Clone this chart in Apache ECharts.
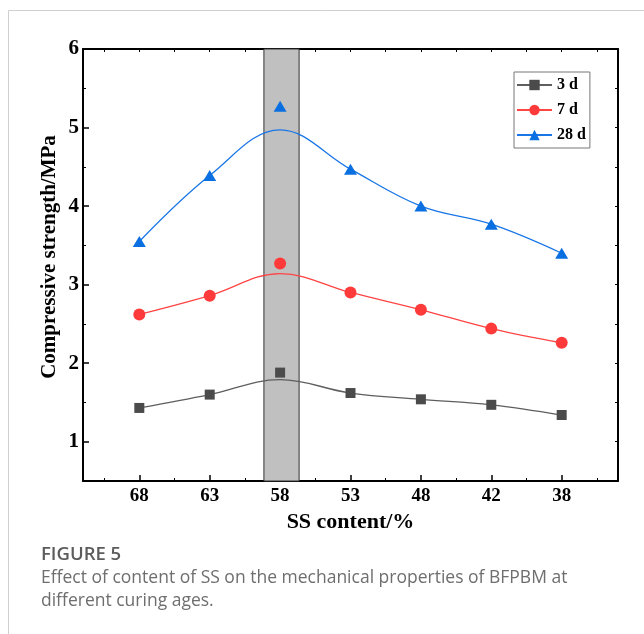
<!DOCTYPE html>
<html>
<head>
<meta charset="utf-8">
<style>
  html, body { margin: 0; padding: 0; background: #ffffff; }
  #chart { width: 644px; height: 634px; }
</style>
<script src="https://cdn.jsdelivr.net/npm/echarts@6/dist/echarts.min.js"></script>
</head>
<body>
<div id="chart"></div>
<script>
// SS content categories (x axis, in order of decreasing content)
const categories = ['68', '63', '58', '53', '48', '42', '38'];

// Measured compressive strength (MPa) at each curing age
const measured3d  = [1.43, 1.60, 1.88, 1.62, 1.54, 1.47, 1.34];
const measured7d  = [2.62, 2.86, 3.27, 2.90, 2.68, 2.44, 2.26];
const measured28d = [3.55, 4.39, 5.27, 4.47, 4.00, 3.77, 3.40];

// Smoothed trend curves through the measurements
const trend3d  = [1.43, 1.60, 1.79, 1.62, 1.54, 1.47, 1.34];
const trend7d  = [2.62, 2.86, 3.14, 2.90, 2.68, 2.44, 2.26];
const trend28d = [3.55, 4.39, 4.97, 4.47, 4.00, 3.77, 3.40];

// Y tick labels
const yTicks = [1, 2, 3, 4, 5, 6];

// Highlighted range around the 58 % content (in category-index units)
const highlightBand = [1.77, 2.27];

const seriesNames = ['3 d', '7 d', '28 d'];
const colors = ['#4b4b4b', '#ff3a3a', '#0a6fe0'];
const lineColors = ['#5e5e5e', '#ff4444', '#1976e6'];
const symbols = ['rect', 'circle', 'triangle'];
const symbolSizes = [10, 12, [13, 11]];

const idx = categories.map((_, i) => i);
const pairs = arr => arr.map((v, i) => [i, v]);

const serif = '"Liberation Serif", "Times New Roman", serif';

const halfSteps = [];
for (let v = -0.5; v <= 6.5001; v += 0.5) halfSteps.push(+v.toFixed(1));
const minorX = halfSteps.filter(v => !Number.isInteger(v));
const yHalf = [];
for (let v = 0.5; v <= 6.0001; v += 0.5) yHalf.push(+v.toFixed(1));
const minorY = yHalf.filter(v => !Number.isInteger(v));

const axisLineStyle = { color: '#000', width: 2 };

const trends = [trend3d, trend7d, trend28d];
const measured = [measured3d, measured7d, measured28d];

const series = [];
// background band
series.push({
  type: 'line',
  name: 'band',
  data: [],
  z: 1,
  silent: true,
  markArea: {
    silent: true,
    itemStyle: { color: '#c0c0c0', borderColor: '#333', borderWidth: 1 },
    data: [[{ xAxis: highlightBand[0] }, { xAxis: highlightBand[1] }]]
  }
});
trends.forEach((t, k) => {
  series.push({
    type: 'line',
    name: seriesNames[k],
    data: pairs(t),
    smooth: 0.38,
    symbol: symbols[k],
    symbolSize: symbolSizes[k],
    showSymbol: false,
    z: 3,
    lineStyle: { color: lineColors[k], width: 1.3 },
    itemStyle: { color: colors[k] },
    silent: true
  });
});
measured.forEach((m, k) => {
  series.push({
    type: 'scatter',
    name: seriesNames[k],
    data: pairs(m),
    symbol: symbols[k],
    symbolSize: symbolSizes[k],
    z: 4,
    itemStyle: { color: colors[k], opacity: 1 },
    silent: true
  });
});

const chart = echarts.init(document.getElementById('chart'), null, { renderer: 'canvas' });

chart.setOption({
  animation: false,
  backgroundColor: '#ffffff',
  grid: { left: 83, right: 26, top: 49, bottom: 153, containLabel: false, outerBoundsMode: 'none' },
  legend: {
    data: seriesNames,
    orient: 'vertical',
    left: 514,
    top: 72,
    padding: [5, 4, 5, 2],
    itemWidth: 35,
    itemHeight: 13,
    itemGap: 9,
    borderColor: '#777',
    borderWidth: 1,
    textStyle: { fontFamily: serif, fontWeight: 'bold', fontSize: 16, color: '#000' },
    selectedMode: false
  },
  xAxis: [
    {
      type: 'value', min: -0.8, max: 6.8, position: 'bottom',
      name: 'SS content/%', nameLocation: 'middle', nameGap: 26,
      nameTextStyle: { fontFamily: serif, fontWeight: 'bold', fontSize: 22, color: '#000' },
      axisLine: { show: true, onZero: false, lineStyle: axisLineStyle },
      axisTick: { show: true, inside: true, length: 6, lineStyle: { color: '#000', width: 1.5 }, customValues: idx },
      axisLabel: {
        show: true, customValues: idx, margin: 6,
        formatter: v => categories[Math.round(v)] ?? '',
        fontFamily: serif, fontWeight: 'bold', fontSize: 19, color: '#000'
      },
      splitLine: { show: false }
    },
    {
      type: 'value', min: -0.8, max: 6.8, position: 'bottom',
      axisLine: { show: false, onZero: false },
      axisTick: { show: true, inside: true, length: 3, lineStyle: { color: '#000', width: 1 }, customValues: minorX },
      axisLabel: { show: false },
      splitLine: { show: false }
    },
    {
      type: 'value', min: -0.8, max: 6.8, position: 'top',
      axisLine: { show: true, onZero: false, lineStyle: axisLineStyle },
      axisTick: { show: true, inside: true, length: 3, lineStyle: { color: '#000', width: 1 }, customValues: halfSteps },
      axisLabel: { show: false },
      splitLine: { show: false }
    }
  ],
  yAxis: [
    {
      type: 'value', min: 0.5, max: 6, position: 'left',
      axisLine: { show: true, onZero: false, lineStyle: axisLineStyle },
      axisTick: { show: true, inside: true, length: 6, lineStyle: { color: '#000', width: 1.5 }, customValues: yTicks },
      axisLabel: {
        show: true, customValues: yTicks, margin: 4,
        fontFamily: serif, fontWeight: 'bold', fontSize: 21, color: '#000'
      },
      splitLine: { show: false }
    },
    {
      type: 'value', min: 0.5, max: 6, position: 'left',
      axisLine: { show: false, onZero: false },
      axisTick: { show: true, inside: true, length: 3, lineStyle: { color: '#000', width: 1 }, customValues: minorY },
      axisLabel: { show: false },
      splitLine: { show: false }
    },
    {
      type: 'value', min: 0.5, max: 6, position: 'right',
      axisLine: { show: true, onZero: false, lineStyle: axisLineStyle },
      axisTick: { show: true, inside: true, length: 3, lineStyle: { color: '#000', width: 1 }, customValues: yHalf },
      axisLabel: { show: false },
      splitLine: { show: false }
    }
  ],
  graphic: [
    {
      type: 'rect', silent: true, z: 0,
      shape: { x: 8.5, y: 10.5, width: 700, height: 700 },
      style: { fill: 'none', stroke: '#cfcfcf', lineWidth: 1 }
    },
    {
      type: 'text', silent: true,
      x: 50, y: 257, rotation: Math.PI / 2,
      style: {
        text: 'Compressive strength/MPa',
        fontFamily: serif, fontWeight: 'bold', fontSize: 21, fill: '#000',
        align: 'center', verticalAlign: 'middle'
      }
    },
    {
      type: 'text', silent: true, left: 41, top: 545,
      style: {
        text: 'FIGURE 5',
        fontFamily: '"Open Sans", sans-serif', fontWeight: 600, fontSize: 18.5, fill: '#5c5c5c'
      }
    },
    {
      type: 'text', silent: true, left: 41, top: 567,
      style: {
        text: 'Effect of content of SS on the mechanical properties of BFPBM at\ndifferent curing ages.',
        fontFamily: '"Open Sans", sans-serif', fontSize: 17.5, lineHeight: 23, fill: '#6e6e6e'
      }
    }
  ],
  series: series
});
</script>
</body>
</html>
